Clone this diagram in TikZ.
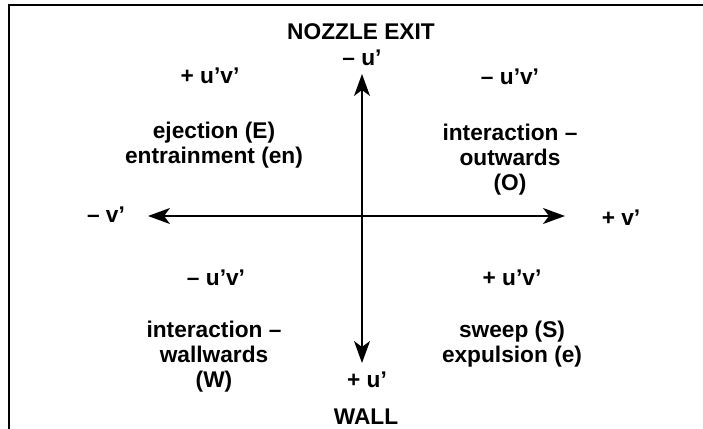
\documentclass[tikz,border=0pt]{standalone}
\usepackage{fontspec}
\setmainfont{Liberation Sans}
\usetikzlibrary{arrows.meta}
\tikzset{
  lbl/.style={font=\fontsize{22.7}{25}\selectfont\bfseries, inner sep=0pt, anchor=base},
  blk/.style={font=\fontsize{22.7}{25}\selectfont\bfseries, inner sep=0pt, anchor=north, align=center},
  axis/.style={line width=1.3pt, {Stealth[length=22pt,width=16pt,inset=6pt]}-{Stealth[length=22pt,width=16pt,inset=6pt]}},
  frame/.style={line width=2pt}
}
\begin{document}
\begin{tikzpicture}[x=1pt,y=-1pt]
\useasboundingbox (0,0) rectangle (703,428);
% frame (cropped on right and bottom)
\coordinate (fbl) at (8.5,440);
\coordinate (ftl) at (8.5,5);
\coordinate (ftr) at (715,5);
\draw[frame] (fbl) -- (ftl) -- (ftr);
% axes
\coordinate (top) at (362,74);
\coordinate (bot) at (362,363);
\coordinate (lft) at (148,216);
\coordinate (rgt) at (565,216);
\draw[axis] (top) -- (bot);
\draw[axis] (lft) -- (rgt);
% axis labels
\node[lbl] (nozzle) at (361,40) {NOZZLE EXIT};
\node[lbl] (mu) at (362,65) {– u’};
\node[lbl] (pu) at (367,387) {+ u’};
\node[lbl] (wall) at (366,424) {WALL};
\node[lbl] (mv) at (106,222) {– v’};
\node[lbl] (pv) at (621,225) {+ v’};
% quadrant 1 (upper left)
\node[lbl] (q1s) at (210,83) {+ u’v’};
\node[blk] (q1t) at (214,122) {ejection (E)\\entrainment (en)};
% quadrant 2 (upper right)
\node[lbl] (q2s) at (510,84) {– u’v’};
\node[blk] (q2t) at (510,124) {interaction –\\outwards\\(O)};
% quadrant 3 (lower left)
\node[lbl] (q3s) at (216,285) {– u’v’};
\node[blk] (q3t) at (214,321) {interaction –\\wallwards\\(W)};
% quadrant 4 (lower right)
\node[lbl] (q4s) at (512,285) {+ u’v’};
\node[blk] (q4t) at (512,321) {sweep (S)\\expulsion (e)};
\end{tikzpicture}
\end{document}
